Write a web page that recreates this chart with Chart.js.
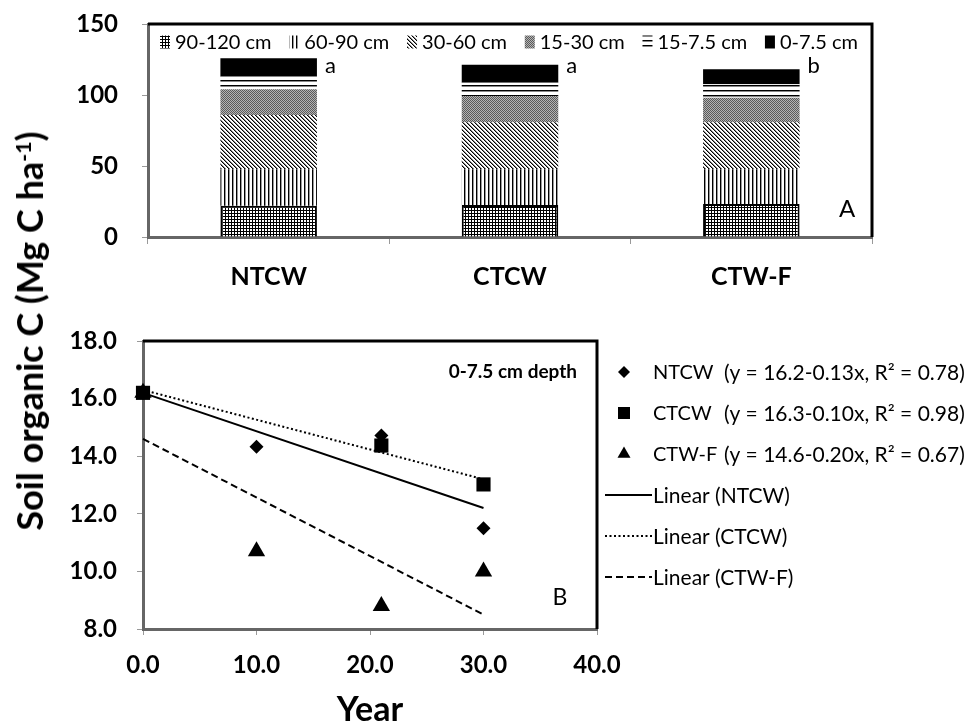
<!DOCTYPE html>
<html><head><meta charset="utf-8">
<script src="https://cdn.jsdelivr.net/npm/chart.js@4.4.1/dist/chart.umd.min.js"></script>
<style>
html,body{margin:0;padding:0;background:#fff;}
body{width:964px;height:724px;position:relative;overflow:hidden;font-family:Lato,sans-serif;}
#c1{position:absolute;left:0;top:0;}
#c2{position:absolute;left:0;top:300px;}
#ytitle{position:absolute;left:29px;top:331px;transform:translate(-50%,-50%) rotate(-90deg);white-space:nowrap;font-family:Lato;font-weight:bold;font-size:36px;line-height:1;color:#000;}
#ytitle sup{font-size:0.6em;vertical-align:0.55em;line-height:0;}
</style></head><body>
<canvas id="c1" width="964" height="300"></canvas>
<canvas id="c2" width="964" height="424"></canvas>
<div id="ytitle">Soil organic C (Mg C ha<sup>-1</sup>)</div>
<script>
// ---------- Panel A data ----------
const categories = ['NTCW', 'CTCW', 'CTW-F'];
const depthLabels = ['90-120 cm', '60-90 cm', '30-60 cm', '15-30 cm', '15-7.5 cm', '0-7.5 cm'];
const soc90to120 = [22.0, 22.5, 23.2];
const soc60to90 = [25.7, 25.2, 24.5];
const soc30to60 = [38.2, 33.1, 33.1];
const soc15to30 = [18.1, 18.5, 17.3];
const soc7to15 = [9.1, 9.4, 9.4];
const soc0to7 = [12.7, 12.6, 10.6];
const sigLetters = ['a', 'a', 'b'];
const yTicksA = [0, 50, 100, 150];

// ---------- Panel B data ----------
const ntcwYears = [0, 10, 21, 30];
const ntcwSOC = [16.2, 14.33, 14.72, 11.5];
const ctcwYears = [0, 21, 30];
const ctcwSOC = [16.2, 14.37, 13.02];
const ctwfYears = [0, 10, 21, 30];
const ctwfSOC = [16.2, 10.7, 8.8, 10.0];
const trendYears = [0, 30];
const ntcwTrend = [16.2, 12.2];
const ctcwTrend = [16.3, 13.2];
const ctwfTrend = [14.6, 8.5];
const seriesNames = ['NTCW', 'CTCW', 'CTW-F'];
const equations = ['(y = 16.2-0.13x, R\u00B2 = 0.78)', '(y = 16.3-0.10x, R\u00B2 = 0.98)', '(y = 14.6-0.20x, R\u00B2 = 0.67)'];
const trendNames = ['Linear (NTCW)', 'Linear (CTCW)', 'Linear (CTW-F)'];
const xTicksB = [0, 10, 20, 30, 40];
const yTicksB = [8, 10, 12, 14, 16, 18];

// ---------- patterns ----------
function makePattern(kind) {
  const c = document.createElement('canvas');
  const g = c.getContext('2d');
  const set = (w, h) => { c.width = w; c.height = h; g.fillStyle = '#fff'; g.fillRect(0, 0, w, h); g.fillStyle = '#000'; };
  if (kind === 'grid') { set(3, 3); g.fillRect(0, 0, 3, 1); g.fillRect(0, 0, 1, 3); }
  else if (kind === 'vert') { set(4, 1); g.fillRect(0, 0, 1, 1); g.fillStyle = '#999'; g.fillRect(1, 0, 1, 1); }
  else if (kind === 'diag') {
    set(4, 4);
    for (let i = 0; i < 4; i++) { g.fillStyle = '#000'; g.fillRect(i, i, 1, 1); g.fillStyle = '#888'; g.fillRect((i + 1) % 4, i, 1, 1); }
  }
  else if (kind === 'dots') { set(2, 2); g.fillStyle = '#b4b4b4'; g.fillRect(0, 0, 2, 2); g.fillStyle = '#5a5a5a'; g.fillRect(0, 0, 1, 1); g.fillRect(1, 1, 1, 1); }
  else if (kind === 'horiz') { set(1, 5); g.fillRect(0, 0, 1, 1); g.fillStyle = '#888'; g.fillRect(0, 1, 1, 1); }
  return g.createPattern(c, 'repeat');
}
const fillsA = [makePattern('grid'), makePattern('vert'), makePattern('diag'), makePattern('dots'), makePattern('horiz'), '#000'];
const valuesByDepth = [soc90to120, soc60to90, soc30to60, soc15to30, soc7to15, soc0to7];

const FONT = 'Lato';
const noPad = s => { s.paddingTop = 0; s.paddingBottom = 0; s.paddingLeft = 0; s.paddingRight = 0; };
const framePlugin = {
  id: 'frame',
  afterDraw(chart) {
    const { ctx, chartArea: a } = chart;
    ctx.save();
    ctx.strokeStyle = '#000';
    ctx.lineWidth = 3;
    ctx.beginPath();
    ctx.moveTo(a.left, a.top);
    ctx.lineTo(a.right, a.top);
    ctx.lineTo(a.right, a.bottom);
    ctx.stroke();
    ctx.restore();
  }
};

const panelAExtras = {
  id: 'panelAExtras',
  afterDraw(chart) {
    const { ctx, chartArea: a } = chart;
    ctx.save();
    // legend
    ctx.font = '20px ' + FONT;
    ctx.textBaseline = 'middle';
    const sw = 10, sh = 13, gin = 5;
    const items = chart.data.datasets.map(ds => ({ label: ds.label, fill: ds.backgroundColor, w: sw + gin + ctx.measureText(ds.label).width }));
    const left = a.left + 12, right = a.right - 14;
    const total = items.reduce((s, it) => s + it.w, 0);
    const gap = (right - left - total) / (items.length - 1);
    let x = left;
    const y = a.top + 18;
    items.forEach(it => {
      ctx.fillStyle = it.fill;
      ctx.fillRect(x, y - sh / 2, sw, sh);
      ctx.fillStyle = '#000';
      ctx.fillText(it.label, x + sw + gin, y + 1);
      x += it.w + gap;
    });
    // significance letters
    const yScale = chart.scales.y;
    const totals = categories.map((_, i) => valuesByDepth.reduce((s, arr) => s + arr[i], 0));
    const base = yScale.getPixelForValue(Math.max(...totals)) + 15;
    const topMeta = chart.getDatasetMeta(chart.data.datasets.length - 1);
    ctx.font = '22px ' + FONT;
    ctx.textBaseline = 'alphabetic';
    ctx.textAlign = 'left';
    topMeta.data.forEach((el, i) => {
      ctx.fillText(sigLetters[i], el.x + el.width / 2 + 8, base);
    });
    // panel label
    ctx.font = '24px ' + FONT;
    ctx.textAlign = 'center';
    ctx.textBaseline = 'middle';
    ctx.fillText('A', a.right - 25, a.bottom - 28);
    ctx.restore();
  }
};

new Chart(document.getElementById('c1'), {
  type: 'bar',
  data: {
    labels: categories,
    datasets: depthLabels.map((l, i) => ({
      label: l,
      data: valuesByDepth[i],
      backgroundColor: fillsA[i],
      borderColor: '#000',
      borderWidth: i === 0 ? 2 : 0,
      borderSkipped: 'bottom',
      barPercentage: 0.4,
      categoryPercentage: 1
    }))
  },
  options: {
    responsive: false, animation: false, events: [],
    layout: { autoPadding: false, padding: { left: 0, right: 92, top: 24, bottom: 0 } },
    plugins: { legend: { display: false }, tooltip: { enabled: false } },
    scales: {
      x: {
        stacked: true,
        grid: { offset: true, drawOnChartArea: false, drawTicks: true, tickLength: 7, color: '#999' },
        border: { color: '#666', width: 3 },
        ticks: { color: '#000', padding: 18, font: { family: FONT, size: 25, weight: 'bold' } },
        afterFit(s) { s.height = 63; noPad(s); }
      },
      y: {
        stacked: true, min: 0, max: 150,
        grid: { drawOnChartArea: false, drawTicks: true, tickLength: 6, color: '#999' },
        border: { color: '#666', width: 3 },
        ticks: { color: '#000', padding: 24, font: { family: FONT, size: 24, weight: 'bold' } },
        afterBuildTicks(s) { s.ticks = yTicksA.map(v => ({ value: v })); },
        afterFit(s) { s.width = 148; noPad(s); }
      }
    }
  },
  plugins: [framePlugin, panelAExtras]
});

// ---------- Panel B ----------
const toPts = (xs, ys) => xs.map((x, i) => ({ x: x, y: ys[i] }));
const panelBExtras = {
  id: 'panelBExtras',
  afterDraw(chart) {
    const { ctx, chartArea: a } = chart;
    ctx.save();
    // depth note
    ctx.font = 'bold 19px ' + FONT;
    ctx.textAlign = 'right';
    ctx.textBaseline = 'middle';
    ctx.fillStyle = '#000';
    ctx.fillText('0-7.5 cm depth', a.right - 20, a.top + 31);
    // panel label
    ctx.font = '23px ' + FONT;
    ctx.textAlign = 'center';
    ctx.fillText('B', a.right - 37, a.bottom - 31);
    // legend
    const rowY0 = a.top + 31, step = 41;
    ctx.textAlign = 'left';
    const ds = chart.data.datasets;
    seriesNames.forEach((name, k) => {
      const d = ds.find(q => q.label === name);
      const y = rowY0 + k * step;
      ctx.fillStyle = '#000';
      const r = d.pointStyle === 'rectRot' ? 6 : (d.pointStyle === 'rect' ? 8.5 : 7.5);
      Chart.helpers.drawPoint(ctx, { pointStyle: d.pointStyle, radius: r, borderWidth: 0, rotation: 0 }, a.right + 27, y);
      ctx.font = '20px ' + FONT;
      ctx.fillText(name, a.right + 56, y + 1);
      ctx.font = '21px ' + FONT;
      ctx.fillText(equations[k], a.right + 127, y + 1);
    });
    ctx.font = '21px ' + FONT;
    trendNames.forEach((name, k) => {
      const d = ds.find(q => q.label === name);
      const y = rowY0 + (k + 3) * step;
      ctx.strokeStyle = '#000';
      ctx.lineWidth = d.borderWidth;
      ctx.setLineDash(d.borderDash || []);
      ctx.beginPath();
      ctx.moveTo(a.right + 8, y);
      ctx.lineTo(a.right + 55, y);
      ctx.stroke();
      ctx.setLineDash([]);
      ctx.fillText(name, a.right + 56, y + 1);
    });
    ctx.restore();
  }
};

new Chart(document.getElementById('c2'), {
  type: 'scatter',
  data: {
    datasets: [
      { label: trendNames[0], data: toPts(trendYears, ntcwTrend), showLine: true, borderColor: '#000', borderWidth: 2, pointRadius: 0, clip: false, order: 0 },
      { label: trendNames[1], data: toPts(trendYears, ctcwTrend), showLine: true, borderColor: '#000', borderWidth: 2, borderDash: [2, 2.5], pointRadius: 0, clip: false, order: 0 },
      { label: trendNames[2], data: toPts(trendYears, ctwfTrend), showLine: true, borderColor: '#000', borderWidth: 2, borderDash: [7, 4], pointRadius: 0, clip: false, order: 0 },
      { label: seriesNames[1], data: toPts(ctcwYears, ctcwSOC), pointStyle: 'rect', pointRadius: 10, backgroundColor: '#000', borderWidth: 0, clip: false, order: 1 },
      { label: seriesNames[0], data: toPts(ntcwYears, ntcwSOC), pointStyle: 'rectRot', pointRadius: 7, backgroundColor: '#000', borderWidth: 0, clip: false, order: 2 },
      { label: seriesNames[2], data: toPts(ctwfYears, ctwfSOC), pointStyle: 'triangle', pointRadius: 10, backgroundColor: '#000', borderWidth: 0, clip: false, order: 3 }
    ]
  },
  options: {
    responsive: false, animation: false, events: [],
    layout: { autoPadding: false, padding: { left: 0, right: 367, top: 41, bottom: 0 } },
    plugins: { legend: { display: false }, tooltip: { enabled: false } },
    scales: {
      x: {
        type: 'linear', min: 0, max: 40,
        grid: { drawOnChartArea: false, drawTicks: true, tickLength: 6, color: '#999' },
        border: { color: '#666', width: 3 },
        ticks: { color: '#000', padding: 16, font: { family: FONT, size: 24, weight: 'bold' }, callback: v => Number(v).toFixed(1) },
        title: { display: true, text: 'Year', color: '#000', padding: 0, font: { family: FONT, size: 34, weight: 'bold', lineHeight: 0.85 } },
        afterBuildTicks(s) { s.ticks = xTicksB.map(v => ({ value: v })); },
        afterFit(s) { s.height = 95; noPad(s); }
      },
      y: {
        min: 8, max: 18,
        grid: { drawOnChartArea: false, drawTicks: true, tickLength: 6, color: '#999' },
        border: { color: '#666', width: 3 },
        ticks: { color: '#000', padding: 20, font: { family: FONT, size: 24, weight: 'bold' }, callback: v => Number(v).toFixed(1) },
        afterBuildTicks(s) { s.ticks = yTicksB.map(v => ({ value: v })); },
        afterFit(s) { s.width = 143; noPad(s); }
      }
    }
  },
  plugins: [framePlugin, panelBExtras]
});
</script>
</body></html>
